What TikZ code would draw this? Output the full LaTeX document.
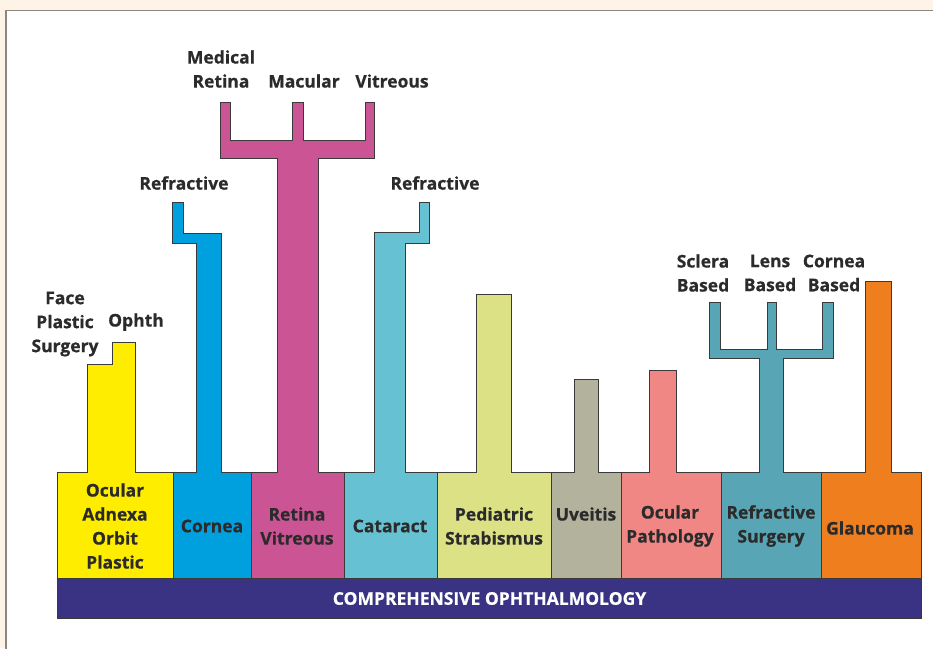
\documentclass[tikz,border=0pt]{standalone}
\usepackage{fontspec}
\setmainfont{Open Sans}[BoldFeatures={FakeBold=0.6}]
\usepackage{xcolor}
\usetikzlibrary{positioning}

\definecolor{cream}{HTML}{FDF3E7}
\definecolor{frame}{HTML}{8C8681}
\definecolor{edge}{HTML}{3A3A3A}
\definecolor{ink}{HTML}{2B2B2B}
\definecolor{oculoyellow}{HTML}{FFED00}
\definecolor{corneablue}{HTML}{00A0DF}
\definecolor{retinapink}{HTML}{CB5495}
\definecolor{cataractcyan}{HTML}{66C1D2}
\definecolor{pedsgreen}{HTML}{DCE185}
\definecolor{uveagrey}{HTML}{B3B29C}
\definecolor{pathred}{HTML}{F08784}
\definecolor{refteal}{HTML}{58A6B5}
\definecolor{glaucorange}{HTML}{EF7F1E}
\definecolor{compurple}{HTML}{3A3282}

\begin{document}
\begin{tikzpicture}[x=1pt, y=-1pt,
        column/.style={draw=edge, line width=1pt, line join=miter, fill=#1},
        lbl/.style={text=ink, font=\fontsize{17.5}{24}\selectfont\bfseries, align=center, inner sep=0pt},
        base/.style={draw=edge, line width=1pt, fill=compurple, text=white, font=\fontsize{17.5}{18}\selectfont\bfseries, inner sep=0pt}
    ]
        \useasboundingbox (0,0) rectangle (933,648);
        \fill[cream] (0,0) rectangle (933,648);
        \filldraw[fill=white, draw=frame, line width=1.6pt] (6,10.5) rectangle (945,660);

        % columns with their subspecialty branches
        \filldraw[column=oculoyellow] (57,578) -- (57,472) -- (87,472) -- (87,364) -- (112,364) -- (112,342) -- (135,342) -- (135,472) -- (173,472) -- (173,578) -- cycle;
        \filldraw[column=corneablue] (173,578) -- (173,472) -- (196,472) -- (196,243) -- (172,243) -- (172,202) -- (183,202) -- (183,233) -- (221,233) -- (221,472) -- (251,472) -- (251,578) -- cycle;
        \filldraw[column=retinapink] (251,578) -- (251,472) -- (277,472) -- (277,158) -- (220,158) -- (220,102) -- (230,102) -- (230,140) -- (292,140) -- (292,102) -- (303,102) -- (303,140) -- (365,140) -- (365,102) -- (374,102) -- (374,158) -- (318,158) -- (318,472) -- (344,472) -- (344,578) -- cycle;
        \filldraw[column=cataractcyan] (344,578) -- (344,472) -- (374,472) -- (374,232) -- (419,232) -- (419,202) -- (429,202) -- (429,243) -- (405,243) -- (405,472) -- (437,472) -- (437,578) -- cycle;
        \filldraw[column=pedsgreen] (437,578) -- (437,472) -- (476,472) -- (476,294) -- (511,294) -- (511,472) -- (551,472) -- (551,578) -- cycle;
        \filldraw[column=uveagrey] (551,578) -- (551,472) -- (574,472) -- (574,379) -- (598,379) -- (598,472) -- (621,472) -- (621,578) -- cycle;
        \filldraw[column=pathred] (621,578) -- (621,472) -- (649,472) -- (649,370) -- (676,370) -- (676,472) -- (721,472) -- (721,578) -- cycle;
        \filldraw[column=refteal] (721,578) -- (721,472) -- (759,472) -- (759,358) -- (709,358) -- (709,302) -- (720,302) -- (720,349) -- (767,349) -- (767,302) -- (776,302) -- (776,349) -- (822,349) -- (822,302) -- (833,302) -- (833,358) -- (783,358) -- (783,472) -- (821,472) -- (821,578) -- cycle;
        \filldraw[column=glaucorange] (821,578) -- (821,472) -- (865,472) -- (865,281) -- (891,281) -- (891,472) -- (921,472) -- (921,578) -- cycle;

        \node[base, minimum width=864pt, minimum height=40pt, anchor=north west] (comp) at (57,578) {COMPREHENSIVE OPHTHALMOLOGY};

        % block labels
        \node[lbl] (adnexa) at (115,526) {Ocular\\Adnexa\\Orbit\\Plastic};
        \node[lbl] (cornea) at (212,526) {Cornea};
        \node[lbl] (retina) at (297,526) {Retina\\Vitreous};
        \node[lbl] (cataract) at (390,526) {Cataract};
        \node[lbl] (peds) at (494,526) {Pediatric\\Strabismus};
        \node[lbl] (uveitis) at (586,514) {Uveitis};
        \node[lbl] (path) at (670,526) {Ocular\\Pathology};
        \node[lbl] (refsurg) at (771,526) {Refractive\\Surgery};
        \node[lbl] (glaucoma) at (870,528) {Glaucoma};

        % branch labels
        \node[lbl] (face) at (65,324) {Face\\Plastic\\Surgery};
        \node[lbl] (ophth) at (136,322) {Ophth};
        \node[lbl] (refcornea) at (184,183) {Refractive};
        \node[lbl] (medret) at (221,69) {Medical\\Retina};
        \node[lbl] (macular) at (304,81) {Macular};
        \node[lbl] (vitreous) at (392,81) {Vitreous};
        \node[lbl] (refcat) at (435,183) {Refractive};
        \node[lbl] (sclera) at (703,273) {Sclera\\Based};
        \node[lbl] (lens) at (770,273) {Lens\\Based};
        \node[lbl] (corneab) at (834,273) {Cornea\\Based};
    \end{tikzpicture}
\end{document}
